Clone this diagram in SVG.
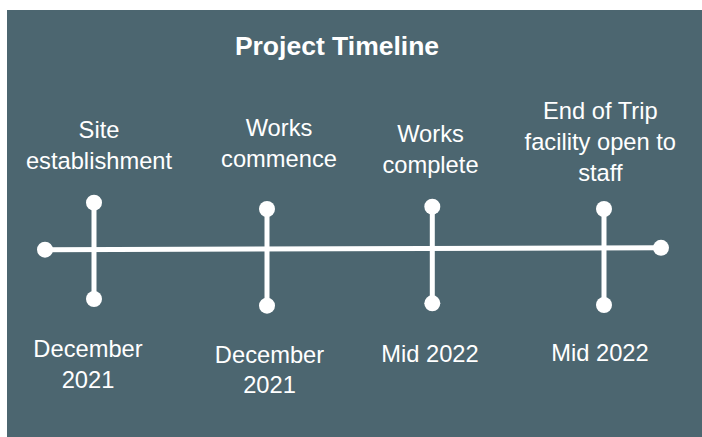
<svg xmlns="http://www.w3.org/2000/svg" width="702" height="437" viewBox="0 0 702 437">
<style>
.t{font-family:"Liberation Sans",Arial,sans-serif;font-size:23.7px;fill:#ffffff;text-anchor:middle}
.title{font-family:"Liberation Sans",Arial,sans-serif;font-size:26.5px;font-weight:bold;fill:#ffffff;text-anchor:middle}
.ln{stroke:#ffffff;stroke-width:5;fill:none}
.dot{fill:#ffffff}
</style>
<rect x="7" y="10" width="695" height="427" fill="#4c6670"/>
<text class="title" x="337" y="55">Project Timeline</text>
<g id="connectors">
<line class="ln" x1="45" y1="249.7" x2="661" y2="247.8"/>
<circle class="dot" cx="45" cy="249.7" r="8"/>
<circle class="dot" cx="661" cy="247.8" r="8"/>
</g>
<g id="node1">
<line class="ln" x1="94" y1="202.7" x2="94" y2="299"/>
<circle class="dot" cx="94" cy="202.7" r="8"/>
<circle class="dot" cx="94" cy="299" r="8"/>
<text class="t" x="99" y="137.7">Site</text>
<text class="t" x="99" y="169.3">establishment</text>
<text class="t" x="88" y="357.3">December</text>
<text class="t" x="88" y="387.7">2021</text>
</g>
<g id="node2">
<line class="ln" x1="267" y1="209" x2="267" y2="305.7"/>
<circle class="dot" cx="267" cy="209" r="8"/>
<circle class="dot" cx="267" cy="305.7" r="8"/>
<text class="t" x="279" y="136">Works</text>
<text class="t" x="279" y="166.7">commence</text>
<text class="t" x="269.5" y="363.3">December</text>
<text class="t" x="269.5" y="392.7">2021</text>
</g>
<g id="node3">
<line class="ln" x1="432.3" y1="206.7" x2="432.3" y2="303.3"/>
<circle class="dot" cx="432.3" cy="206.7" r="8"/>
<circle class="dot" cx="432.3" cy="303.3" r="8"/>
<text class="t" x="430.5" y="141.7">Works</text>
<text class="t" x="430.5" y="172.7">complete</text>
<text class="t" x="430" y="362.3">Mid 2022</text>
</g>
<g id="node4">
<line class="ln" x1="604" y1="209" x2="604" y2="305"/>
<circle class="dot" cx="604" cy="209" r="8"/>
<circle class="dot" cx="604" cy="305" r="8"/>
<text class="t" x="600.3" y="119.3">End of Trip</text>
<text class="t" x="600.3" y="150">facility open to</text>
<text class="t" x="600.3" y="181">staff</text>
<text class="t" x="600" y="360.7">Mid 2022</text>
</g>
</svg>
